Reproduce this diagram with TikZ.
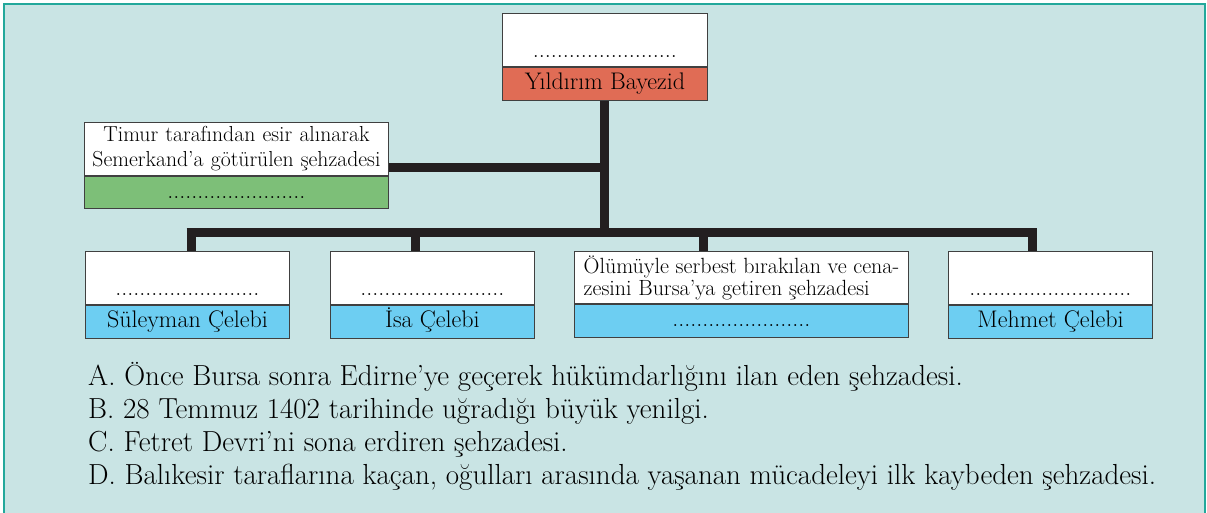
\documentclass[tikz,border=0pt]{standalone}
\usetikzlibrary{positioning}

\definecolor{zemin}{HTML}{C9E4E4}
\definecolor{cerceve}{HTML}{22A89B}
\definecolor{kirmizi}{HTML}{E06C55}
\definecolor{yesil}{HTML}{7DBF78}
\definecolor{mavi}{HTML}{6DCEF2}
\definecolor{koyu}{HTML}{231F20}

\tikzset{
  kutu/.style={draw=black!75, line width=0.9pt, fill=white, inner sep=0pt, minimum height=53pt},
  noktali/.style={kutu, text height=40pt, text depth=4pt, inner ysep=4.5pt},
  adkutu/.style={draw=black!75, line width=0.9pt, inner sep=0pt, minimum height=33pt, text height=17pt, text depth=5pt},
  dal/.style={koyu, line width=9pt}
}

\begin{document}
\begin{tikzpicture}[x=1pt, y=-1pt, font=\fontsize{24}{25}\selectfont]

\useasboundingbox (0,0) rectangle (1207,513);
\fill[zemin] (3,3) rectangle (1206,513);
\draw[cerceve, line width=2.5pt] (4,513) -- (4,4) -- (1205,4) -- (1205,513);

% top
\node[noktali, minimum width=205pt, anchor=north west] (bayezid) at (502,13) {........................};
\node[adkutu, fill=kirmizi, minimum width=205pt, below=0pt of bayezid] (bayezidAd) {Yıldırım Bayezid};

% left
\node[kutu, minimum width=304pt, text width=300pt, align=center, anchor=north west,
  font=\fontsize{21.7}{25}\selectfont] (timur) at (84,122) {Timur tarafından esir alınarak\\Semerkand’a götürülen şehzadesi};
\node[adkutu, fill=yesil, minimum height=32pt, minimum width=304pt, below=0pt of timur] (timurAd) {.......................};

% sons
\node[noktali, minimum width=204pt, anchor=north west] (suleyman) at (85,251) {........................};
\node[adkutu, fill=mavi, minimum width=204pt, below=0pt of suleyman] (suleymanAd) {Süleyman Çelebi};

\node[noktali, minimum width=204pt, anchor=north west] (isa) at (330,251) {........................};
\node[adkutu, fill=mavi, minimum width=204pt, below=0pt of isa] (isaAd) {İsa Çelebi};

\node[kutu, minimum width=334pt, minimum height=52pt, align=left, anchor=north west,
  font=\fontsize{22}{22}\selectfont] (olum) at (574,251) {Ölümüyle serbest bırakılan ve cena-\\zesini Bursa’ya getiren şehzadesi};
\node[adkutu, fill=mavi, minimum width=334pt, below=0pt of olum] (olumAd) {.......................};

\node[noktali, minimum width=204pt, anchor=north west] (mehmet) at (948,251) {...........................};
\node[adkutu, fill=mavi, minimum width=204pt, below=0pt of mehmet] (mehmetAd) {Mehmet Çelebi};

% branches
\coordinate (j1) at (191,232.5);
\coordinate (j2) at (415,232.5);
\coordinate (j3) at (703,232.5);
\coordinate (j4) at (1032,232.5);
\coordinate (tk) at (604.5,167.5);

\draw[dal] (bayezidAd.south) -- (bayezidAd.south |- j1);
\draw[dal] (timur.east |- tk) -- (tk);
\draw[dal, shorten <=-4.5pt, shorten >=-4.5pt] (j1) -- (j4);
\draw[dal] (j1) -- (j1 |- suleyman.north);
\draw[dal] (j2) -- (j2 |- isa.north);
\draw[dal] (j3) -- (j3 |- olum.north);
\draw[dal] (j4) -- (j4 |- mehmet.north);

% questions
\begin{scope}[font=\fontsize{29}{33}\selectfont]
\node[anchor=base west, inner sep=0pt] (sA) at (88,385) {A. Önce Bursa sonra Edirne’ye geçerek hükümdarlığını ilan eden şehzadesi.};
\node[anchor=base west, inner sep=0pt] (sB) at (88,418) {B. 28 Temmuz 1402 tarihinde uğradığı büyük yenilgi.};
\node[anchor=base west, inner sep=0pt] (sC) at (88,451) {C. Fetret Devri’ni sona erdiren şehzadesi.};
\node[anchor=base west, inner sep=0pt] (sD) at (88,484) {D. Balıkesir taraflarına kaçan, oğulları arasında yaşanan mücadeleyi ilk kaybeden şehzadesi.};
\end{scope}

\end{tikzpicture}
\end{document}
